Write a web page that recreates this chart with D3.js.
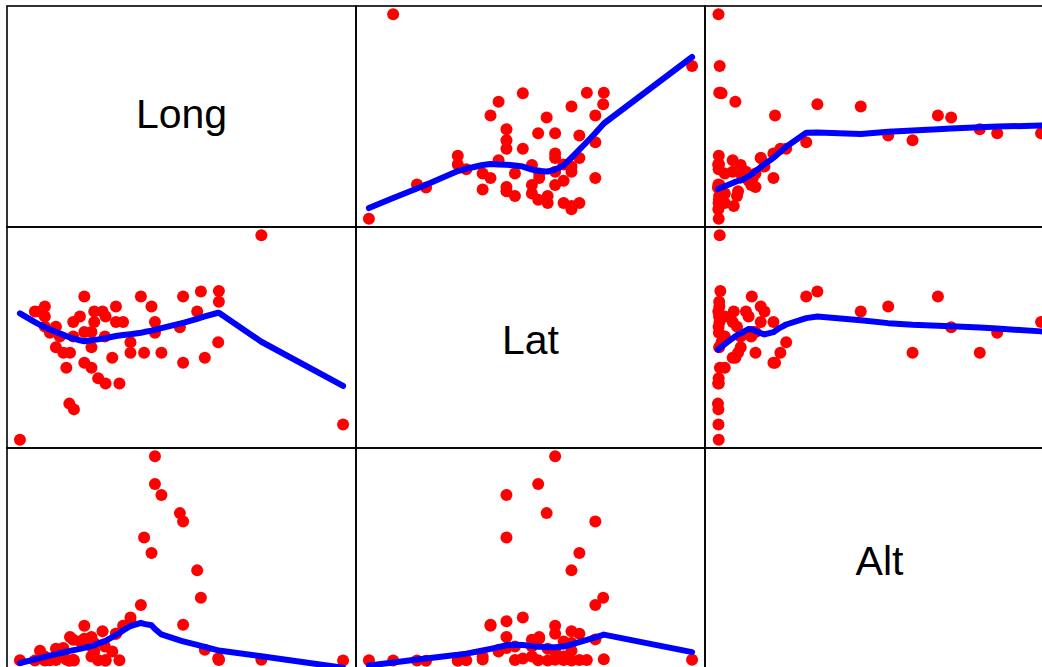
<!DOCTYPE html>
<html>
<head>
<meta charset="utf-8">
<script src="https://cdn.jsdelivr.net/npm/d3@7"></script>
<style>
  html, body { margin: 0; padding: 0; background: #ffffff; }
  svg { display: block; }
</style>
</head>
<body>
<svg id="chart" width="1042" height="667"></svg>
<script>
// Variable names shown on the diagonal
const variables = ["Long", "Lat", "Alt"];

// Longitude (degrees)
const long = [
  -80.00, -79.35, -79.13, -78.92, -78.92, -78.92, -78.70, -78.44, -78.44, -78.27,
  -78.12, -77.99, -77.86, -77.83, -77.69, -77.69, -77.66, -77.40, -77.21, -77.21,
  -77.21, -76.90, -76.90, -76.90, -76.78, -76.78, -76.61, -76.42, -76.32, -76.29,
  -76.29, -76.00, -75.84, -75.84, -75.69, -75.53, -75.21, -75.21, -74.76, -74.62,
  -74.30, -74.15, -74.15, -73.87, -73.07, -72.93, -72.93, -72.32, -72.16, -71.99,
  -71.41, -71.38, -71.38, -69.54, -66.00
];

// Latitude (degrees)
const lat = [
  -4.00, 6.03, 6.03, 6.42, 5.64, 4.85, 4.38, 4.85, 3.23, 4.07,
  2.81, 1.63, -1.17, 2.81, 5.22, 4.07, -1.62, 5.64, 7.21, 4.43,
  2.02, 4.43, 3.23, 1.63, 6.03, 5.22, 0.82, 6.03, 4.07, 5.64,
  0.40, 2.42, 6.42, 5.22, 0.40, 5.22, 3.62, 2.81, 7.21, 2.81,
  6.42, 5.22, 4.38, 2.81, 4.80, 7.21, 2.02, 6.03, 7.60, 2.42,
  3.62, 7.63, 6.79, 12.00, -2.80
];

// Altitude (metres)
const alt = [
  10, 5, 196, 18, 85, 8, 12, 236, 15, 85,
  249, 25, 0, 465, 20, 412, 6, 380, 419, 432,
  687, 465, 282, 85, 347, 183, 9, 576, 282, 14,
  3, 183, 530, 530, 11, 687, 845, 773, 1093, 2409,
  2108, 4000, 3457, 3241, 2887, 2723, 707, 1768, 1231, 216,
  45, 30, 16, 22, 7
];

const columns = { Long: long, Lat: lat, Alt: alt };

// R-style lowess smoother (Cleveland 1979), span f and robustness iterations
function lowess(xIn, yIn, f = 2 / 3, nsteps = 3) {
  const order = d3.range(xIn.length).sort((a, b) => xIn[a] - xIn[b]);
  const x = order.map(i => xIn[i]);
  const y = order.map(i => yIn[i]);
  const n = x.length;
  const delta = 0.01 * (x[n - 1] - x[0]);
  const ys = new Array(n).fill(0);
  const rw = new Array(n).fill(1);
  const res = new Array(n).fill(0);
  const ns = Math.max(Math.min(Math.floor(f * n + 1e-7), n), 2);

  function lowest(xs, nleft, nright, userw) {
    const range = x[n - 1] - x[0];
    const h = Math.max(xs - x[nleft], x[nright] - xs);
    const h9 = 0.999 * h, h1 = 0.001 * h;
    let a = 0, j = nleft;
    while (j < n) {
      res[j] = 0;
      const r = Math.abs(x[j] - xs);
      if (r <= h9) {
        res[j] = r <= h1 ? 1 : Math.pow(1 - Math.pow(r / h, 3), 3);
        if (userw) res[j] *= rw[j];
        a += res[j];
      } else if (x[j] > xs) break;
      j++;
    }
    const nrt = j - 1;
    if (a <= 0) return null;
    for (j = nleft; j <= nrt; j++) res[j] /= a;
    if (h > 0) {
      a = 0;
      for (j = nleft; j <= nrt; j++) a += res[j] * x[j];
      let b = xs - a, c = 0;
      for (j = nleft; j <= nrt; j++) c += res[j] * (x[j] - a) * (x[j] - a);
      if (Math.sqrt(c) > 0.001 * range) {
        b /= c;
        for (j = nleft; j <= nrt; j++) res[j] *= (b * (x[j] - a) + 1);
      }
    }
    let s = 0;
    for (j = nleft; j <= nrt; j++) s += res[j] * y[j];
    return s;
  }

  for (let iter = 1; iter <= nsteps + 1; iter++) {
    let nleft = 0, nright = ns - 1, last = -1, i = 0;
    for (;;) {
      if (nright < n - 1) {
        const d1 = x[i] - x[nleft], d2 = x[nright + 1] - x[i];
        if (d1 > d2) { nleft++; nright++; continue; }
      }
      const v = lowest(x[i], nleft, nright, iter > 1);
      ys[i] = v === null ? y[i] : v;
      if (last < i - 1) {
        const denom = x[i] - x[last];
        for (let j = last + 1; j < i; j++) {
          const al = (x[j] - x[last]) / denom;
          ys[j] = al * ys[i] + (1 - al) * ys[last];
        }
      }
      last = i;
      const cut = x[last] + delta;
      for (i = last + 1; i < n; i++) {
        if (x[i] > cut) break;
        if (x[i] === x[last]) { ys[i] = ys[last]; last = i; }
      }
      i = Math.max(last + 1, i - 1);
      if (last >= n - 1) break;
    }
    for (i = 0; i < n; i++) res[i] = y[i] - ys[i];
    if (iter > nsteps) break;
    let sc = 0;
    for (i = 0; i < n; i++) sc += Math.abs(res[i]);
    sc /= n;
    const sorted = res.map(Math.abs).sort((a, b) => a - b);
    const m1 = Math.floor(n / 2);
    const cmad = n % 2 === 0 ? 3 * (sorted[m1 - 1] + sorted[m1]) : 6 * sorted[m1];
    if (cmad < 1e-7 * sc) break;
    const c9 = 0.999 * cmad, c1 = 0.001 * cmad;
    for (i = 0; i < n; i++) {
      const r = Math.abs(res[i]);
      rw[i] = r <= c1 ? 1 : (r <= c9 ? Math.pow(1 - Math.pow(r / cmad, 2), 2) : 0);
    }
  }
  return x.map((xv, k) => [xv, ys[k]]);
}

// Matrix layout
const gridLeft = 7, gridTop = 6, cellW = 349, cellH = 221;
const labelSize = 41;
const svg = d3.select("#chart");

// Domain padded by 4% on each side
function paddedDomain(values) {
  const [lo, hi] = d3.extent(values);
  const r = hi - lo;
  return [lo - 0.04 * r, hi + 0.04 * r];
}

// Baseline that centres the ink of a label (cap height, plus descender if any)
function labelBaseline(cy, text) {
  const capH = 0.716 * labelSize;
  const desc = /[gjpqy]/.test(text) ? 0.21 * labelSize : 0;
  return cy + 1.5 + (capH - desc) / 2;
}

variables.forEach((rowVar, i) => {
  variables.forEach((colVar, j) => {
    const x0 = gridLeft + j * cellW, y0 = gridTop + i * cellH;
    const cell = svg.append("g");

    if (i === j) {
      cell.append("text")
        .attr("x", x0 + cellW / 2)
        .attr("y", labelBaseline(y0 + cellH / 2, rowVar))
        .attr("text-anchor", "middle")
        .attr("font-family", "'Liberation Sans', Arial, sans-serif")
        .attr("font-size", labelSize)
        .attr("fill", "#000")
        .text(rowVar);
    } else {
      const xs = columns[colVar], ys = columns[rowVar];
      const sx = d3.scaleLinear().domain(paddedDomain(xs)).range([x0, x0 + cellW]);
      const sy = d3.scaleLinear().domain(paddedDomain(ys)).range([y0 + cellH, y0]);

      const clipId = `clip-${i}-${j}`;
      svg.append("clipPath").attr("id", clipId)
        .append("rect").attr("x", x0).attr("y", y0).attr("width", cellW).attr("height", cellH);

      const plot = cell.append("g").attr("clip-path", `url(#${clipId})`);

      plot.selectAll("circle")
        .data(d3.range(xs.length))
        .join("circle")
        .attr("cx", k => sx(xs[k]))
        .attr("cy", k => sy(ys[k]))
        .attr("r", 6)
        .attr("fill", "#ff0000");

      const smooth = lowess(xs, ys);
      plot.append("path")
        .datum(smooth)
        .attr("fill", "none")
        .attr("stroke", "#0000ff")
        .attr("stroke-width", 6)
        .attr("stroke-linecap", "round")
        .attr("stroke-linejoin", "round")
        .attr("d", d3.line().x(d => sx(d[0])).y(d => sy(d[1])));
    }

    cell.append("rect")
      .attr("x", x0).attr("y", y0)
      .attr("width", cellW).attr("height", cellH)
      .attr("fill", "none")
      .attr("stroke", "#000")
      .attr("stroke-width", 1.6);
  });
});
</script>
</body>
</html>
